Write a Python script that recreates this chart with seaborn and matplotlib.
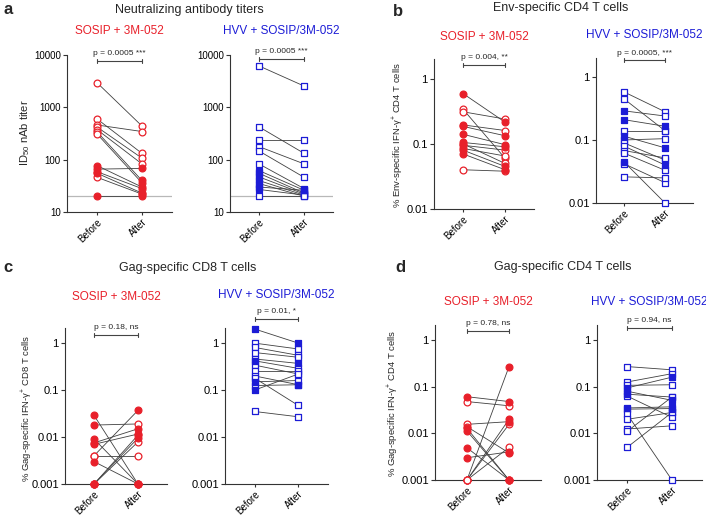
import numpy as np
import pandas as pd
import matplotlib
matplotlib.use("Agg")
import matplotlib.pyplot as plt
import seaborn as sns

# ============================================================================
# DATA
# ============================================================================

timepoints = ["Before", "After"]
group_names = ["SOSIP + 3M-052", "HVV + SOSIP/3M-052"]

# a - neutralizing antibody titers (ID50)
a_sosip_before = [2950, 600, 460, 420, 375, 340, 310, 77, 66, 59, 55, 46, 20]
a_sosip_after = [440, 132, 345, 107, 83, 40, 36, 30, 68, 28, 23, 22, 20]
a_sosip_before_filled = [0, 0, 0, 0, 0, 0, 0, 1, 1, 1, 1, 0, 1]
a_sosip_after_filled = [0, 0, 0, 0, 0, 1, 1, 1, 1, 0, 1, 1, 1]

a_hvv_before = [6200, 425, 240, 178, 147, 83, 62, 55, 47, 40, 35, 30, 27, 20]
a_hvv_after = [2550, 132, 240, 83, 46, 28, 26, 23, 22, 21, 20, 26, 21, 20]
a_hvv_before_filled = [0, 0, 0, 0, 0, 0, 1, 1, 0, 1, 1, 1, 1, 0]
a_hvv_after_filled = [0, 0, 0, 0, 0, 1, 1, 0, 0, 0, 0, 1, 0, 0]

# b - Env-specific CD4 T cells
b_sosip_before = [0.59, 0.34, 0.31, 0.195, 0.185, 0.14, 0.105, 0.1, 0.095, 0.085, 0.08, 0.07, 0.04]
b_sosip_after = [0.215, 0.06, 0.24, 0.16, 0.133, 0.097, 0.09, 0.05, 0.08, 0.065, 0.045, 0.04, 0.038]
b_sosip_before_filled = [1, 0, 0, 1, 1, 1, 1, 0, 1, 0, 1, 1, 0]
b_sosip_after_filled = [1, 0, 0, 0, 1, 1, 1, 0, 0, 0, 1, 1, 0]

b_hvv_before = [0.58, 0.45, 0.29, 0.21, 0.14, 0.115, 0.1, 0.09, 0.08, 0.068, 0.062, 0.045, 0.042, 0.026]
b_hvv_after = [0.28, 0.14, 0.24, 0.165, 0.14, 0.075, 0.105, 0.048, 0.04, 0.052, 0.033, 0.01, 0.021, 0.025]
b_hvv_before_filled = [0, 0, 1, 1, 0, 1, 0, 0, 0, 0, 0, 1, 0, 0]
b_hvv_after_filled = [0, 0, 0, 1, 0, 1, 0, 0, 1, 0, 0, 0, 0, 0]

# c - Gag-specific CD8 T cells
c_sosip_before = [0.029, 0.018, 0.0091, 0.0075, 0.007, 0.004, 0.004, 0.003, 0.001, 0.001, 0.001, 0.001]
c_sosip_after = [0.001, 0.019, 0.001, 0.015, 0.0116, 0.004, 0.037, 0.001, 0.011, 0.0095, 0.0079, 0.001]
c_sosip_before_filled = [1, 1, 1, 1, 1, 0, 0, 1, 1, 1, 1, 1]
c_sosip_after_filled = [1, 0, 1, 1, 1, 0, 1, 1, 0, 1, 0, 1]

c_hvv_before = [2.0, 1.0, 0.81, 0.63, 0.46, 0.42, 0.34, 0.26, 0.2, 0.18, 0.15, 0.125, 0.1, 0.035]
c_hvv_after = [1.0, 0.75, 0.55, 0.5, 0.37, 0.29, 0.22, 0.26, 0.13, 0.047, 0.16, 0.13, 0.22, 0.027]
c_hvv_before_filled = [1, 0, 0, 0, 0, 1, 0, 0, 0, 0, 1, 0, 1, 0]
c_hvv_after_filled = [1, 0, 0, 0, 1, 0, 0, 0, 1, 0, 0, 1, 0, 0]

# d - Gag-specific CD4 T cells
d_sosip_before = [0.061, 0.048, 0.0156, 0.0139, 0.0128, 0.0112, 0.0049, 0.003, 0.001, 0.001, 0.001, 0.001]
d_sosip_after = [0.048, 0.039, 0.0178, 0.0038, 0.001, 0.001, 0.001, 0.004, 0.27, 0.02, 0.0156, 0.005]
d_sosip_before_filled = [1, 0, 0, 0, 1, 1, 1, 1, 0, 0, 0, 0]
d_sosip_after_filled = [1, 0, 1, 1, 1, 1, 1, 1, 1, 1, 0, 0]

d_hvv_before = [0.27, 0.126, 0.107, 0.094, 0.08, 0.069, 0.063, 0.035, 0.033, 0.026, 0.02, 0.0124, 0.011, 0.005]
d_hvv_after = [0.23, 0.19, 0.11, 0.16, 0.051, 0.06, 0.022, 0.037, 0.034, 0.001, 0.028, 0.0145, 0.06, 0.028]
d_hvv_before_filled = [0, 0, 0, 1, 1, 1, 0, 1, 0, 0, 0, 0, 0, 0]
d_hvv_after_filled = [0, 0, 0, 1, 1, 0, 0, 1, 1, 0, 0, 0, 0, 0]

p_texts = {
    "a": ["p = 0.0005 ***", "p = 0.0005 ***"],
    "b": ["p = 0.004, **", "p = 0.0005, ***"],
    "c": ["p = 0.18, ns", "p = 0.01, *"],
    "d": ["p = 0.78, ns", "p = 0.94, ns"],
}

panel_titles = {
    "a": "Neutralizing antibody titers",
    "b": "Env-specific CD4 T cells",
    "c": "Gag-specific CD8 T cells",
    "d": "Gag-specific CD4 T cells",
}

y_labels = {
    "a": "ID$_{50}$ nAb titer",
    "b": "% Env-specific IFN-\u03b3$^{+}$ CD4 T cells",
    "c": "% Gag-specific IFN-\u03b3$^{+}$ CD8 T cells",
    "d": "% Gag-specific IFN-\u03b3$^{+}$ CD4 T cells",
}

# ============================================================================
# STYLE
# ============================================================================

sns.set_style("ticks")
plt.rcParams["font.family"] = ["Liberation Sans", "DejaVu Sans"]
plt.rcParams["mathtext.fontset"] = "custom"
plt.rcParams["mathtext.rm"] = "Liberation Sans"
plt.rcParams["mathtext.it"] = "Liberation Sans:italic"

RED = "#e8202a"
BLUE = "#1c1cd6"
W, H = 706, 515

fig = plt.figure(figsize=(W / 100, H / 100), dpi=100)


def rect(l, r, t, b):
    return [l / W, 1 - b / H, (r - l) / W, (b - t) / H]


def make_df(before, after, bfill, afill):
    n = len(before)
    return pd.DataFrame({
        "id": list(range(n)) * 2,
        "x": [0] * n + [1] * n,
        "value": list(before) + list(after),
        "filled": list(bfill) + list(afill),
    })


def draw_pair(box, xlim, ylim, yticks, ytick_labels, df, color, marker,
              ptext, brk_y, txt_y, ref_line=None, ytick_fs=8):
    ax = fig.add_axes(rect(*box))
    ax.set_yscale("log")

    if ref_line is not None:
        ax.axhline(ref_line, color="#b8b8b8", lw=0.9, zorder=0)

    sns.lineplot(
        data=df, x="x", y="value", units="id", estimator=None,
        color="#404040", lw=0.6, ax=ax, legend=False, zorder=1
    )

    filled = df[df["filled"] == 1]
    hollow = df[df["filled"] == 0]
    ms = 24 if marker == "o" else 24
    sns.scatterplot(
        data=hollow, x="x", y="value", marker=marker, s=ms,
        color="white", edgecolor=color, linewidth=0.9, ax=ax,
        legend=False, zorder=3, clip_on=False
    )
    sns.scatterplot(
        data=filled, x="x", y="value", marker=marker, s=ms,
        color=color, edgecolor=color, linewidth=0.9, ax=ax,
        legend=False, zorder=4, clip_on=False
    )

    ax.set_xlim(*xlim)
    ax.set_ylim(*ylim)
    ax.set_yticks(yticks)
    ax.set_yticklabels(ytick_labels, fontsize=ytick_fs)
    ax.yaxis.set_minor_locator(matplotlib.ticker.NullLocator())
    ax.set_xticks([0, 1])
    ax.set_xticklabels(timepoints, rotation=45, ha="right",
                       rotation_mode="anchor", fontsize=7)
    ax.set_xlabel("")
    ax.set_ylabel("")
    sns.despine(ax=ax)
    for s in ["left", "bottom"]:
        ax.spines[s].set_linewidth(0.8)
        ax.spines[s].set_color("#333333")
    ax.tick_params(length=3, width=0.8, pad=1.5, colors="#333333",
                   labelcolor="black")
    ax.tick_params(axis="x", length=2.5, pad=1)

    # significance bracket
    trans = ax.get_xaxis_transform()
    ax.plot([0, 1], [brk_y, brk_y], color="#444444", lw=0.8,
            transform=trans, clip_on=False)
    for xx in [0, 1]:
        ax.plot([xx, xx], [brk_y - 0.012, brk_y + 0.012], color="#444444",
                lw=0.8, transform=trans, clip_on=False)
    ax.text(0.5, txt_y, ptext, transform=trans, ha="center", va="bottom",
            fontsize=6)
    return ax


# ============================================================================
# PANELS
# ============================================================================

log_a = ([10, 100, 1000, 10000], ["10", "100", "1000", "10000"])
log_b = ([0.01, 0.1, 1], ["0.01", "0.1", "1"])
log_cd = ([0.001, 0.01, 0.1, 1], ["0.001", "0.01", "0.1", "1"])

panels = [
    # box, xlim, ylim, ticks, df, color, marker, ptext, bracket y, text y, ref, tick fs
    ((67, 172, 55, 212), (-0.67, 1.67), (10, 10000), log_a,
     make_df(a_sosip_before, a_sosip_after, a_sosip_before_filled, a_sosip_after_filled),
     RED, "o", p_texts["a"][0], 0.96, 0.985, 20, 7),
    ((230, 333, 55, 212), (-0.64, 1.64), (10, 10000), log_a,
     make_df(a_hvv_before, a_hvv_after, a_hvv_before_filled, a_hvv_after_filled),
     BLUE, "s", p_texts["a"][1], 0.975, 1.0, 20, 7),
    ((434, 534, 59, 209), (-0.69, 1.69), (0.01, 2.0), log_b,
     make_df(b_sosip_before, b_sosip_after, b_sosip_before_filled, b_sosip_after_filled),
     RED, "o", p_texts["b"][0], 0.96, 0.985, None, 8),
    ((596, 693, 58, 203), (-0.68, 1.68), (0.01, 2.0), log_b,
     make_df(b_hvv_before, b_hvv_after, b_hvv_before_filled, b_hvv_after_filled),
     BLUE, "s", p_texts["b"][1], 0.985, 1.01, None, 8),
    ((65, 167, 328, 484), (-0.66, 1.66), (0.001, 2.1), log_cd,
     make_df(c_sosip_before, c_sosip_after, c_sosip_before_filled, c_sosip_after_filled),
     RED, "o", p_texts["c"][0], 0.955, 0.98, None, 8),
    ((225, 328, 328, 484), (-0.68, 1.68), (0.001, 2.1), log_cd,
     make_df(c_hvv_before, c_hvv_after, c_hvv_before_filled, c_hvv_after_filled),
     BLUE, "s", p_texts["c"][1], 1.06, 1.085, None, 8),
    ((435, 541, 325, 480), (-0.76, 1.76), (0.001, 2.1), log_cd,
     make_df(d_sosip_before, d_sosip_after, d_sosip_before_filled, d_sosip_after_filled),
     RED, "o", p_texts["d"][0], 0.96, 0.985, None, 8),
    ((597, 702, 325, 480), (-0.67, 1.67), (0.001, 2.1), log_cd,
     make_df(d_hvv_before, d_hvv_after, d_hvv_before_filled, d_hvv_after_filled),
     BLUE, "s", p_texts["d"][1], 0.98, 1.005, None, 8),
]

for box, xlim, ylim, ticks, df, color, marker, ptext, by, ty, ref, tfs in panels:
    draw_pair(box, xlim, ylim, ticks[0], ticks[1], df, color, marker,
              ptext, by, ty, ref_line=ref, ytick_fs=tfs)

# ============================================================================
# TEXT: letters, titles, group names, y labels
# ============================================================================


def ftext(x, y, s, **kw):
    fig.text(x / W, 1 - y / H, s, **kw)


ftext(3, 10, "a", fontsize=12, fontweight="bold", va="center")
ftext(393, 12, "b", fontsize=12, fontweight="bold", va="center")
ftext(3, 268, "c", fontsize=12, fontweight="bold", va="center")
ftext(395, 268, "d", fontsize=12, fontweight="bold", va="center")

ftext(189, 10, panel_titles["a"], fontsize=9, ha="center", va="center")
ftext(561, 8, panel_titles["b"], fontsize=9, ha="center", va="center")
ftext(188, 268, panel_titles["c"], fontsize=9, ha="center", va="center")
ftext(563, 267, panel_titles["d"], fontsize=9, ha="center", va="center")

group_pos = [
    (119, 31, RED, group_names[0]), (281, 31, BLUE, group_names[1]),
    (484, 37, RED, group_names[0]), (644, 35, BLUE, group_names[1]),
    (116, 297, RED, group_names[0]), (276, 295, BLUE, group_names[1]),
    (488, 302, RED, group_names[0]), (649, 302, BLUE, group_names[1]),
]
for gx, gy, gc, gname in group_pos:
    ftext(gx, gy, gname, fontsize=8.5, color=gc, ha="center", va="center")

ftext(25, 133, y_labels["a"], fontsize=8, rotation=90, ha="center", va="center")
ftext(398, 135, y_labels["b"], fontsize=6.8, rotation=90, ha="center", va="center")
ftext(27, 408, y_labels["c"], fontsize=6.8, rotation=90, ha="center", va="center")
ftext(393, 403, y_labels["d"], fontsize=6.8, rotation=90, ha="center", va="center")

fig.savefig("out.png", dpi=100)
